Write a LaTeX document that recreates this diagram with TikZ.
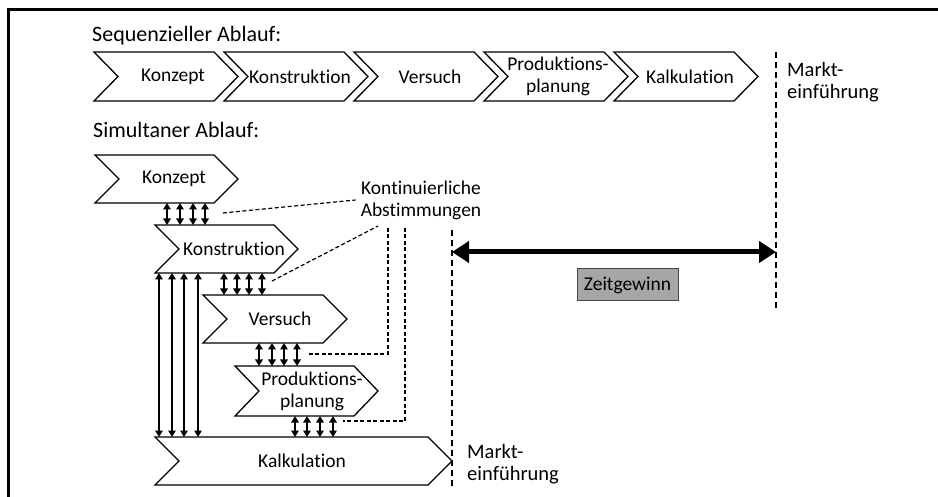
\documentclass[tikz,border=0pt]{standalone}
\usepackage{fontspec}
\setmainfont{Carlito}[Ligatures={NoCommon}]
\usetikzlibrary{arrows.meta,calc}
\newcommand\chev[7]{%
  \node[box, minimum width=#4pt, minimum height=#5pt, anchor=north west] (#1) at (#2,#3) {};
  \draw[chevline] (#1.north west) -- ([xshift=-24pt]#1.north east) -- (#1.east) -- ([xshift=-24pt]#1.south east) -- (#1.south west) -- ([xshift=24pt]#1.west) -- cycle;
  \node[lbl] (#1t) at (#7,#3+#5/2) {#6};
}
\begin{document}
\begin{tikzpicture}[x=1pt,y=-1pt,
  chevline/.style={draw=black, line width=1.3pt, fill=white, line join=miter},
  box/.style={inner sep=0pt, outer sep=0pt, draw=none},
  lbl/.style={font=\fontsize{19.5}{22}\selectfont, inner sep=0pt, align=center},
  txt/.style={font=\fontsize{20.5}{22}\selectfont, inner sep=0pt, align=left},
  title/.style={font=\fontsize{22}{24}\selectfont, inner sep=0pt},
  dbl/.style={line width=2pt, {Triangle[length=6.5pt,width=7.5pt]}-{Triangle[length=6.5pt,width=7.5pt]}},
  markline/.style={line width=1.4pt, dash pattern=on 6pt off 4pt},
  conn/.style={line width=1.2pt, dash pattern=on 4pt off 2.5pt},
  bigarrow/.style={line width=5pt, {Triangle[length=17pt,width=21pt]}-{Triangle[length=17pt,width=21pt]}},
  gainbox/.style={draw={rgb,255:red,70;green,70;blue,70}, fill={rgb,255:red,166;green,166;blue,166}, line width=1pt, minimum width=101pt, minimum height=32pt, inner sep=0pt, font=\fontsize{19.5}{22}\selectfont}
]
\useasboundingbox (0,0) rectangle (938,497);
\fill[white] (0,0) rectangle (938,497);
% frame
\draw[line width=2.7pt] (8.7,497) -- (8.7,9.7) -- (938,9.7);

% titles
\node[title, anchor=base west] (t1) at (92,42) {Sequenzieller Ablauf:};
\node[title, anchor=base west] (t2) at (93,138) {Simultaner Ablauf:};

% sequential row
\chev{s1}{94}{52}{144}{49}{Konzept}{173}
\chev{s2}{224}{52}{144}{49}{Konstruktion}{300}
\chev{s3}{354}{52}{144}{49}{Versuch}{430}
\chev{s4}{484}{52}{144}{49}{Produktions-\\planung}{558}
\chev{s5}{614}{52}{144}{49}{Kalkulation}{690}

% simultaneous
\chev{kz}{95}{155}{143}{48}{Konzept}{174}
\chev{ks}{155}{225}{143}{48}{Konstruktion}{234}
\chev{vs}{203}{295}{144}{48}{Versuch}{280}
\chev{pp}{235}{366}{143}{50}{Produktions-\\planung}{312}
\chev{kl}{155}{437}{297}{48}{Kalkulation}{302}

% coordination arrows
\foreach \dx in {72,85,98,110}{\path (kz.south west) ++(\dx,0) coordinate (t); \draw[dbl] (t) -- (t |- ks.north);}
\foreach \dx in {69,82,94,107}{\path (ks.south west) ++(\dx,0) coordinate (t); \draw[dbl] (t) -- (t |- vs.north);}
\foreach \dx in {56,69,81,94}{\path (vs.south west) ++(\dx,0) coordinate (t); \draw[dbl] (t) -- (t |- pp.north);}
\foreach \dx in {60,72,85,98}{\path (pp.south west) ++(\dx,0) coordinate (t); \draw[dbl] (t) -- (t |- kl.north);}
\foreach \dx in {4,17,29,43}{\path (ks.south west) ++(\dx,0) coordinate (t); \draw[dbl] (t) -- (t |- kl.north);}

% label and dashed connectors
\node[lbl] (abst) at (421,200) {Kontinuierliche\\Abstimmungen};
\coordinate (c1) at (223,213);
\coordinate (c2) at (272,281);
\coordinate (c3) at (307,354);
\coordinate (c4) at (343,421);
\coordinate (a1) at ([xshift=-5pt]abst.west);
\coordinate (a2) at (378,226);
\coordinate (a3) at (388,228);
\coordinate (a4) at (405,228);
\draw[conn] (c1) -- (a1);
\draw[conn] (c2) -- (a2);
\draw[conn] (a3) -- (a3 |- c3) -- (c3);
\draw[conn] (a4) -- (a4 |- c4) -- (c4);

% market introduction lines
\coordinate (m1a) at (776,52);
\coordinate (m1b) at (776,308);
\coordinate (m2a) at (452,230);
\coordinate (m2b) at (452,487);
\draw[markline] (m1a) -- (m1b);
\draw[markline] (m2a) -- (m2b);
\node[txt, anchor=north west] (mk1) at (787,62.5) {Markt-\\einführung};
\node[txt, anchor=north west] (mk2) at (467,444) {Markt-\\einführung};

% time gain
\coordinate (za) at (452,252);
\coordinate (zb) at (776,252);
\draw[bigarrow] (za) -- (zb);
\node[gainbox] (zg) at (627.5,285) {Zeitgewinn};
\end{tikzpicture}
\end{document}
